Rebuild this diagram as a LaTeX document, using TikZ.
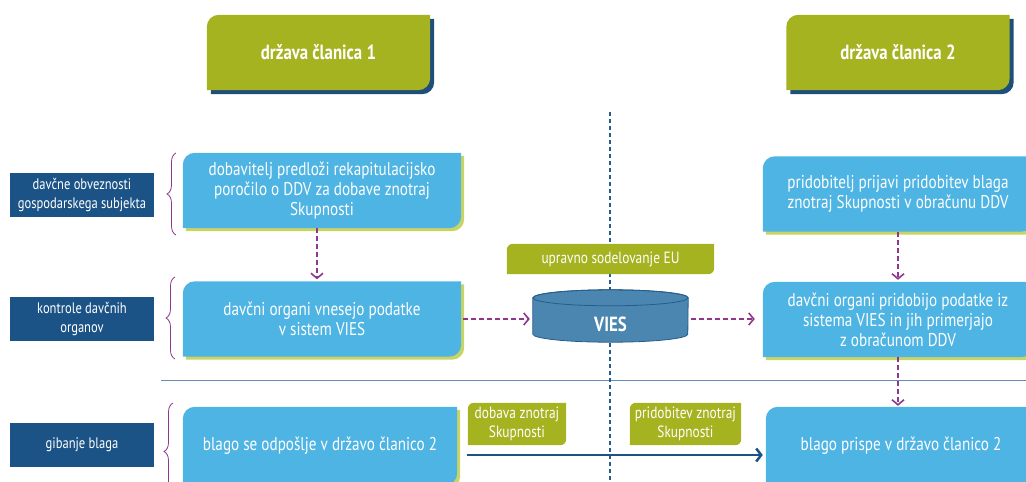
\documentclass[tikz,border=0pt]{standalone}
\usepackage{fontspec}
\setmainfont{PT Sans}[FakeStretch=0.82]
\usetikzlibrary{positioning}
\usetikzlibrary{arrows.meta}
\usetikzlibrary{decorations.pathreplacing}
\definecolor{olivegr}{RGB}{166,179,33}
\definecolor{skyb}{RGB}{77,180,227}
\definecolor{navyb}{RGB}{27,83,134}
\definecolor{plum}{RGB}{142,55,140}
\definecolor{viesb}{RGB}{74,134,175}
\definecolor{viesedge}{RGB}{38,92,140}
\definecolor{glow}{RGB}{200,212,100}
\definecolor{hshadow}{RGB}{30,78,122}
\definecolor{sepb}{RGB}{95,143,184}
\pgfdeclarelayer{bg}
\pgfsetlayers{bg,main}
\newcommand\leafpath[2]{([yshift=-#2]#1.north west) arc[start angle=180, end angle=90, radius=#2] -- (#1.north east) -- ([yshift=#2]#1.south east) arc[start angle=0, end angle=-90, radius=#2] -- (#1.south west) -- cycle}
\tikzset{boxtext/.style = {text=white, align=center, inner sep=0, font=\fontsize{18.5}{20}\selectfont}}
\tikzset{head/.style = {boxtext, font=\bfseries\fontsize{20.5}{22}\selectfont, minimum width=223pt, minimum height=75pt}}
\tikzset{task/.style = {boxtext, minimum width=278pt, minimum height=75pt}}
\tikzset{tag/.style = {boxtext, font=\fontsize{16.3}{19}\selectfont}}
\tikzset{rowlabel/.style = {fill=navyb, text=white, align=center, inner sep=0, minimum width=144pt, minimum height=44pt, font=\fontsize{15.3}{19}\selectfont}}
\tikzset{flow/.style = {plum, line width=1.6pt, dash pattern=on 5pt off 3pt, -{Straight Barb[length=5pt, width=12pt, line width=1.6pt]}}}
\tikzset{goods/.style = {navyb, line width=2.5pt, -{Straight Barb[length=5pt, width=13pt, line width=2.5pt]}}}
\tikzset{bracket/.style = {plum, line width=0.8pt, decorate, decoration={brace, amplitude=9pt}}}

\begin{document}
\begin{tikzpicture}[x=1pt, y=-1pt]
      \useasboundingbox (0,0) rectangle (1026,482);

      \node[head] (st1) at (318.5,52.5) {država članica 1};
      \node[head] (st2) at (898,52.5) {država članica 2};

      \node[rowlabel] (obv) at (82,195) {davčne obveznosti\\gospodarskega subjekta};
      \node[rowlabel] (ctl) at (82,319) {kontrole davčnih\\organov};
      \node[rowlabel] (mov) at (82,445) {gibanje blaga};

      \node[task] (b1) at (322,190.5) {dobavitelj predloži rekapitulacijsko\\poročilo o DDV za dobave znotraj\\Skupnosti};
      \node[task] (b2) at (322,319) {davčni organi vnesejo podatke\\v sistem VIES};
      \node[task, minimum width=274pt, minimum height=78pt] (b3) at (320,446) {blago se odpošlje v državo članico 2};
      \node[task, minimum width=270pt] (r1) at (898,194) {pridobitelj prijavi pridobitev blaga\\znotraj Skupnosti v obračunu DDV};
      \node[task, minimum width=270pt] (r2) at (898,319.5) {davčni organi pridobijo podatke iz\\sistema VIES in jih primerjajo\\z obračunom DDV};
      \node[task, minimum width=270pt, minimum height=78pt] (r3) at (901,446) {blago prispe v državo članico 2};

      \node[tag, minimum width=207pt, minimum height=30pt] (eu) at (610.5,259) {upravno sodelovanje EU};
      \node[minimum width=155pt, minimum height=52pt, inner sep=0] (vies) at (610.5,316) {};
      \node[boxtext, font=\bfseries\fontsize{20.5}{22}\selectfont] (vieslbl) at ([yshift=-8pt]vies.center) {VIES};
      \node[tag, minimum width=98pt, minimum height=42pt] (sup) at (517,424) {dobava znotraj\\Skupnosti};
      \node[tag, minimum width=111pt, minimum height=42pt] (acq) at (685.5,424) {pridobitev znotraj\\Skupnosti};

      \begin{pgfonlayer}{bg}
        \draw[sepb, line width=1pt] (161,380) -- (1026,380);
        \draw[viesedge, line width=1.2pt, dash pattern=on 4pt off 3pt] (610,112) -- (610,482);
        \begin{scope}[transform canvas={shift={(4pt,-4pt)}}]
          \foreach \n in {st1,st2} \fill[hshadow] \leafpath{\n}{12pt};
        \end{scope}
        \begin{scope}[transform canvas={shift={(3pt,-3pt)}}]
          \foreach \n in {b1,b2,b3,r1,r2,r3} \fill[glow] \leafpath{\n}{12pt};
        \end{scope}
        \foreach \n in {st1,st2} \fill[olivegr] \leafpath{\n}{12pt};
        \foreach \n in {b1,b2,b3,r1,r2,r3} \fill[skyb] \leafpath{\n}{12pt};
        \foreach \n in {eu,sup,acq} \fill[olivegr] \leafpath{\n}{6pt};
        \fill[viesb, draw=viesedge, line width=0.8pt] ([yshift=-8pt]vies.north west) -- ([yshift=8pt]vies.south west) arc[start angle=180, end angle=360, x radius=77.5pt, y radius=8pt] -- ([yshift=-8pt]vies.north east) arc[start angle=0, end angle=180, x radius=77.5pt, y radius=8pt] -- cycle;
        \draw[viesedge, line width=0.8pt] ([yshift=-8pt]vies.north) ellipse [x radius=77.5pt, y radius=8pt];
      \end{pgfonlayer}

      \draw[bracket] (176,235) -- (176,153);
      \draw[bracket] (175,359) -- (175,277);
      \draw[bracket] (173,500) -- (173,403);

      \draw[flow, shorten >=2pt] ([xshift=-5pt]b1.south) -- ([xshift=-5pt]b2.north);
      \draw[flow, shorten <=2pt, shorten >=3pt] (b2.east) -- (b2.east -| vies.west);
      \draw[flow, shorten <=3pt, shorten >=8pt] (vies.east |- b2.east) -- (r2.west |- b2.east);
      \draw[flow, shorten >=2pt] (r1.south) -- (r2.north);
      \draw[flow, shorten >=1pt] (r2.south) -- (r2.south |- r3.north);
      \draw[goods, shorten <=10pt, shorten >=3pt] ([yshift=-9pt]b3.east) -- ([yshift=-9pt]b3.east -| r3.west);
    \end{tikzpicture}
\end{document}
